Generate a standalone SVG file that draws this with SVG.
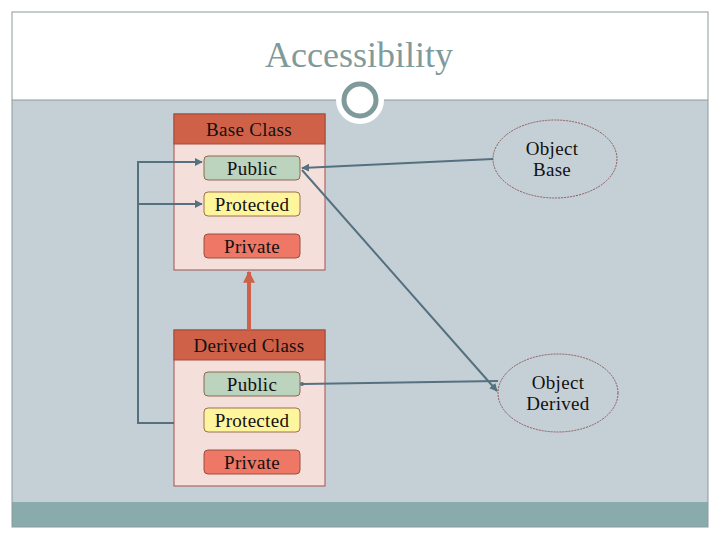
<svg xmlns="http://www.w3.org/2000/svg" width="720" height="540" viewBox="0 0 720 540">
<defs>
<style>
.t{font-family:"Liberation Serif","DejaVu Serif",serif;font-size:19px;fill:#111;text-anchor:middle;letter-spacing:0.3px}
.hdr{fill:#CF6148;stroke:#A34A3A;stroke-width:1}
.body{fill:#F5DFDA;stroke:#A05050;stroke-width:1}
.pub{fill:#BCD3BD;stroke:#8A6A50;stroke-width:1}
.pro{fill:#FFF59C;stroke:#9A7050;stroke-width:1}
.pri{fill:#EE7766;stroke:#9A5040;stroke-width:1}
.con{fill:none;stroke:#55707F;stroke-width:2}
.ell{fill:#C5D0D6;stroke:#8A5A5A;stroke-width:1;stroke-dasharray:2 1}
</style>
<marker id="ah" viewBox="0 0 10 10" refX="9" refY="5" markerWidth="4" markerHeight="4" orient="auto"><path d="M0,0 L10,5 L0,10 z" fill="#55707F"/></marker>
<marker id="ah2" viewBox="0 0 10 10" refX="9" refY="5" markerWidth="3" markerHeight="3" orient="auto"><path d="M0,0 L10,5 L0,10 z" fill="#CF6148"/></marker>
</defs>
<rect x="0" y="0" width="720" height="540" fill="#fff"/>
<rect x="12" y="100" width="696" height="402" fill="#C5D0D6"/>
<rect x="12" y="502" width="696" height="25" fill="#8AABAB"/>
<rect x="12" y="12" width="696" height="515" fill="none" stroke="#8A9A9A" stroke-width="1"/>
<line x1="12" y1="100" x2="708" y2="100" stroke="#8A9A9A" stroke-width="1"/>
<circle cx="360" cy="100" r="24" fill="#fff"/>
<circle cx="360" cy="100" r="16" fill="#fff" stroke="#7F9A9A" stroke-width="5"/>
<text x="359" y="67" style="font-family:'Liberation Serif','DejaVu Serif',serif;font-size:36px;fill:#7F9A9A;text-anchor:middle">Accessibility</text>

<g id="base-class">
<rect class="body" x="174" y="114" width="151" height="156"/>
<rect class="hdr" x="174" y="114" width="151" height="30"/>
<text class="t" x="249" y="136">Base Class</text>
<g id="base-public"><rect class="pub" x="204" y="156" width="96" height="24" rx="4"/><text class="t" x="252" y="175">Public</text></g>
<g id="base-protected"><rect class="pro" x="204" y="192" width="96" height="24" rx="4"/><text class="t" x="252" y="211">Protected</text></g>
<g id="base-private"><rect class="pri" x="204" y="234" width="96" height="24" rx="4"/><text class="t" x="252" y="253">Private</text></g>
</g>

<g id="derived-class">
<rect class="body" x="174" y="330" width="151" height="156"/>
<rect class="hdr" x="174" y="330" width="151" height="30"/>
<text class="t" x="249" y="352">Derived Class</text>
<g id="derived-public"><rect class="pub" x="204" y="372" width="96" height="24" rx="4"/><text class="t" x="252" y="391">Public</text></g>
<g id="derived-protected"><rect class="pro" x="204" y="408" width="96" height="24" rx="4"/><text class="t" x="252" y="427">Protected</text></g>
<g id="derived-private"><rect class="pri" x="204" y="450" width="96" height="24" rx="4"/><text class="t" x="252" y="469">Private</text></g>
</g>

<g id="object-base">
<ellipse class="ell" cx="555" cy="159" rx="62" ry="39"/>
<text class="t" x="552" y="155">Object</text>
<text class="t" x="552" y="176">Base</text>
</g>

<g id="object-derived">
<ellipse class="ell" cx="558" cy="393" rx="60" ry="39"/>
<text class="t" x="558" y="389">Object</text>
<text class="t" x="558" y="410">Derived</text>
</g>

<g id="connectors">
<line x1="249" y1="330" x2="249" y2="272" stroke="#CF6148" stroke-width="4" marker-end="url(#ah2)"/>
<polyline class="con" points="174,423 138,423 138,162 202,162" marker-end="url(#ah)"/>
<polyline class="con" points="138,204 202,204" marker-end="url(#ah)"/>
<line class="con" x1="493" y1="159" x2="302" y2="168" marker-end="url(#ah)"/>
<line class="con" x1="302" y1="170" x2="497" y2="391" marker-end="url(#ah)"/>
<line class="con" x1="498" y1="381" x2="303" y2="384" stroke-width="1.5"/>
<circle cx="302" cy="384" r="2" fill="#55707F"/>
</g>
</svg>
